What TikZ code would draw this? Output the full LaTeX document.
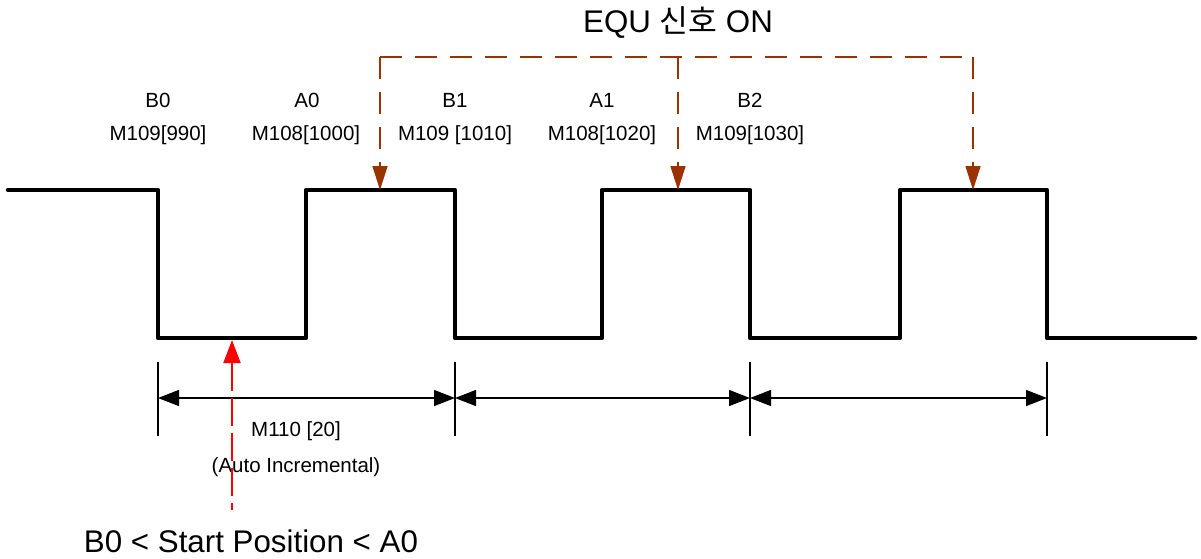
\documentclass[tikz,border=0pt]{standalone}
\usepackage{fontspec}
\setmainfont{Liberation Sans}
\newfontfamily\kofont{Noto Sans CJK KR}
\usetikzlibrary{arrows.meta}
\definecolor{brown}{RGB}{153,51,0}
\tikzset{
  wave/.style={line width=4.5pt, line join=round, line cap=round},
  dimline/.style={line width=1.3pt, {Triangle[length=21pt,width=16pt]}-{Triangle[length=21pt,width=16pt]}},
  tick/.style={line width=1.3pt},
  equ/.style={brown, line width=1.6pt, dash pattern=on 22pt off 13pt},
  equtip/.style={-{Triangle[length=24pt,width=15pt]}},
  lbl/.style={font=\fontsize{20.5}{20.5}\selectfont, inner sep=0pt},
  big/.style={font=\fontsize{31.3}{31.3}\selectfont, inner sep=0pt}
}
\begin{document}
\begin{tikzpicture}[x=1pt,y=-1pt]
\useasboundingbox (0,0) rectangle (1201,558);
% waveform
\draw[wave] (8,190) -- (158,190) -- (158,338) -- (306,338) -- (306,190) -- (455,190) -- (455,338)
  -- (602,338) -- (602,190) -- (750,190) -- (750,338) -- (900,338) -- (900,190) -- (1047,190)
  -- (1047,338) -- (1195,338);
% coordinates
\coordinate (t1) at (380,190);
\coordinate (t2) at (678,190);
\coordinate (t3) at (973,190);
\coordinate (c1) at (380,57);
\coordinate (c2) at (678,57);
\coordinate (c3) at (973,57);
% EQU dashed arrows
\draw[equ] (c1) -- (c3);
\draw[equ, equtip] (c1) -- (t1);
\draw[equ, equtip] (c2) -- (t2);
\draw[equ, equtip] (c3) -- (t3);
\node[big] (equ) at (678,23) {EQU {\kofont 신호} ON};
% labels
\node[lbl] (b0) at (158,100) {B0};
\node[lbl] (b0v) at (158,135) {M109[990]};
\node[lbl] (a0) at (307,100) {A0};
\node[lbl] (a0v) at (306,135) {M108[1000]};
\node[lbl] (b1) at (455,100) {B1};
\node[lbl] (b1v) at (455,135) {M109 [1010]};
\node[lbl] (a1) at (602,100) {A1};
\node[lbl] (a1v) at (602,135) {M108[1020]};
\node[lbl] (b2) at (750,100) {B2};
\node[lbl] (b2v) at (750,135) {M109[1030]};
% dimension ticks
\coordinate (d1t) at (158,362); \coordinate (d1b) at (158,436);
\coordinate (d2t) at (455,362); \coordinate (d2b) at (455,436);
\coordinate (d3t) at (750,362); \coordinate (d3b) at (750,436);
\coordinate (d4t) at (1047,362); \coordinate (d4b) at (1047,436);
\draw[tick] (d1t) -- (d1b);
\draw[tick] (d2t) -- (d2b);
\draw[tick] (d3t) -- (d3b);
\draw[tick] (d4t) -- (d4b);
\coordinate (m1) at (158,398); \coordinate (m2) at (455,398);
\coordinate (m3) at (750,398); \coordinate (m4) at (1047,398);
\draw[dimline] (m1) -- (m2);
\draw[dimline] (m2) -- (m3);
\draw[dimline] (m3) -- (m4);
% texts
\node[lbl] (inc) at (296,431) {M110 [20]};
\node[lbl] (auto) at (296,467) {(Auto Incremental)};
% red arrow
\coordinate (rs) at (232,510);
\coordinate (re) at (232,340);
\draw[red, line width=2pt, dash pattern=on 28pt off 7pt, {Triangle[length=23pt,width=17pt]}-] (re) -- (rs);
\node[big] (start) at (251,541) {B0 < Start Position < A0};
\end{tikzpicture}
\end{document}
